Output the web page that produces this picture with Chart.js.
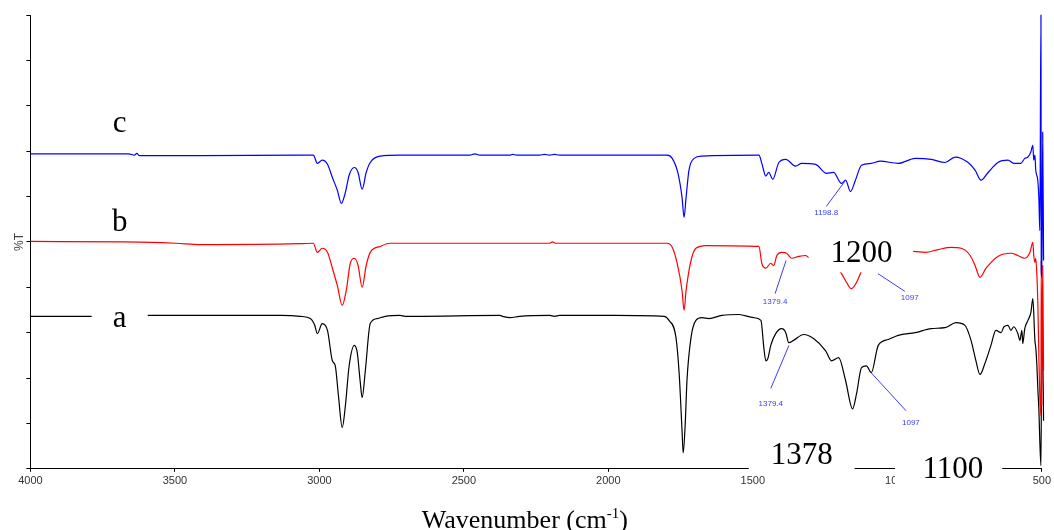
<!DOCTYPE html>
<html>
<head>
<meta charset="utf-8">
<script src="https://cdn.jsdelivr.net/npm/chart.js@4.4.1/dist/chart.umd.min.js"></script>
<style>
  body { margin: 0; background: #fff; }
  canvas { display: block; }
</style>
</head>
<body>
<canvas id="myChart" width="1054" height="530"></canvas>
<script>
// wavenumbers (cm-1) and transmittance (arbitrary %T offset) for each trace
const waveC = [4000, 3660, 3640, 3632, 3622, 3410, 3066, 3021, 3007, 2990, 2972, 2955, 2938, 2924, 2910, 2897, 2879, 2866, 2852, 2838, 2824, 2790, 2721, 2479, 2462, 2445, 2341, 2331, 2317, 2238, 2221, 2203, 2186, 2169, 1962, 1797, 1779, 1759, 1745, 1738, 1731, 1721, 1703, 1676, 1479, 1469, 1455, 1445, 1431, 1410, 1386, 1352, 1331, 1283, 1245, 1221, 1193, 1179, 1162, 1145, 1124, 1090, 1059, 997, 938, 883, 835, 800, 755, 731, 710, 686, 652, 617, 597, 573, 559, 548, 538, 531, 528, 524, 521, 514, 510, 507, 503, 502, 500, 497, 494];
const transC = [69.4, 69.4, 69.1, 69.5, 69.0, 69.0, 69.1, 69.1, 67.3, 68.0, 67.1, 64.2, 61.4, 58.5, 60.9, 64.7, 66.4, 65.3, 61.6, 65.3, 67.5, 68.9, 69.1, 69.1, 69.4, 69.1, 69.1, 69.3, 69.1, 69.1, 69.3, 69.1, 69.3, 69.1, 69.1, 69.1, 68.4, 65.1, 59.8, 55.4, 59.8, 65.8, 68.4, 68.9, 69.1, 67.3, 64.5, 65.3, 63.8, 67.5, 68.2, 66.7, 67.3, 67.1, 65.1, 65.3, 62.9, 63.6, 61.1, 63.6, 66.9, 67.3, 67.8, 67.3, 68.4, 68.2, 67.5, 68.7, 67.5, 65.8, 63.6, 65.3, 67.5, 68.0, 67.3, 67.3, 68.4, 68.7, 69.8, 71.3, 68.0, 69.1, 65.8, 63.6, 59.2, 52.5, 100, 43.7, 42.2, 74.2, 45.9];

const waveB = [4000, 3686, 3583, 3497, 3410, 3066, 3021, 3007, 2990, 2972, 2955, 2938, 2921, 2907, 2893, 2879, 2866, 2852, 2838, 2824, 2790, 2755, 2203, 2193, 2183, 1797, 1779, 1762, 1745, 1738, 1731, 1714, 1697, 1662, 1479, 1469, 1455, 1438, 1428, 1417, 1400, 1383, 1366, 1341, 1317, 1307, 1272, 1221, 1193, 1176, 1159, 1141, 1128, 1100, 1048, 997, 945, 903, 859, 814, 779, 748, 731, 714, 693, 652, 607, 583, 559, 541, 531, 528, 524, 521, 517, 514, 510, 507, 503, 502, 500, 497, 494];
const transB = [50.1, 50.0, 49.9, 49.7, 49.4, 49.6, 49.7, 47.7, 48.6, 47.7, 44.2, 40.4, 36.0, 39.3, 45.3, 46.4, 44.8, 40.0, 44.8, 47.7, 49.0, 49.7, 49.7, 50.0, 49.7, 49.7, 48.8, 45.3, 39.3, 34.9, 39.3, 45.9, 48.6, 49.2, 49.0, 45.3, 44.2, 45.3, 44.8, 47.0, 47.7, 47.5, 46.4, 46.8, 47.0, 46.6, 46.8, 45.5, 43.0, 41.1, 39.7, 41.1, 43.0, 46.4, 47.0, 47.5, 47.9, 47.7, 48.3, 48.8, 48.6, 47.0, 44.8, 42.2, 44.2, 46.8, 47.5, 47.0, 46.4, 47.7, 49.9, 47.0, 45.5, 46.4, 42.6, 37.1, 23.8, 16.1, 11.7, 45.9, 13.9, 44.8, 21.6];

const waveA = [4000, 3790, 3583, 3410, 3134, 3066, 3031, 3017, 3007, 2990, 2972, 2955, 2945, 2934, 2921, 2910, 2897, 2879, 2869, 2859, 2852, 2841, 2824, 2800, 2772, 2721, 2703, 2669, 2376, 2366, 2341, 2307, 2203, 2186, 2169, 1979, 1807, 1790, 1766, 1755, 1745, 1741, 1734, 1728, 1714, 1697, 1676, 1652, 1607, 1548, 1497, 1472, 1462, 1455, 1448, 1438, 1421, 1400, 1386, 1376, 1359, 1324, 1290, 1248, 1228, 1203, 1179, 1155, 1141, 1124, 1107, 1090, 1066, 1031, 997, 938, 883, 835, 797, 766, 745, 728, 714, 697, 676, 659, 641, 631, 617, 607, 597, 583, 576, 569, 566, 559, 548, 538, 531, 524, 521, 517, 514, 510, 507, 503, 500, 497, 494];
const transA = [33.6, 33.6, 33.8, 33.8, 33.8, 33.6, 33.1, 31.8, 29.8, 32.0, 30.5, 23.8, 22.7, 16.1, 9.1, 13.9, 22.7, 27.2, 25.6, 19.4, 15.7, 21.6, 32.0, 33.1, 33.6, 33.8, 33.6, 33.6, 33.8, 33.6, 33.3, 33.6, 33.8, 33.6, 33.8, 33.8, 33.6, 32.7, 28.9, 21.0, 8.4, 3.5, 9.9, 19.4, 28.9, 32.7, 33.3, 33.1, 33.8, 34.0, 33.3, 32.7, 26.7, 23.8, 24.3, 27.2, 29.8, 30.9, 30.0, 27.8, 28.3, 29.6, 28.7, 26.0, 23.8, 24.5, 19.4, 13.2, 16.6, 22.3, 22.7, 21.2, 27.2, 28.5, 29.4, 30.0, 30.9, 31.1, 32.2, 31.6, 28.3, 23.8, 20.8, 23.2, 27.2, 30.5, 30.0, 31.3, 31.6, 30.5, 31.3, 29.8, 28.3, 30.5, 27.6, 30.9, 32.7, 34.4, 37.5, 28.3, 26.7, 22.7, 17.9, 12.8, 6.2, 0.7, 30.5, 27.2, 10.6];

// big labels pasted on the figure, some with a white patch behind them
const bigLabels = [
    { text: 'c', wn: 3691, t: 74.2 },
    { text: 'b', wn: 3691, t: 52.5 },
    { text: 'a', wn: 3691, t: 31.3, patch: [3788, 3594, 36.9, 29.8] },
    { text: '1200', wn: 1124, t: 45.5, patch: [1307, 945, 53.0, 43.3] },
    { text: '1378', wn: 1331, t: 1.1, patch: [1514, 1148, 8.4, -0.9] },
    { text: '1100', wn: 808, t: -2.0, patch: [1008, 637, 5.1, -6.0] }
];

// small peak markers: leader line from the curve to the label
const peakNotes = [
    { text: '1198.8', from: [1181, 63.4], to: [1246, 57.8], at: [1246, 56.5] },
    { text: '1379.4', from: [1385, 45.9], to: [1423, 38.6], at: [1423, 36.9] },
    { text: '1097', from: [1067, 43.0], to: [974, 39.1], at: [957, 37.7] },
    { text: '1379.4', from: [1375, 27.2], to: [1438, 17.7], at: [1438, 14.3] },
    { text: '1097', from: [1091, 21.2], to: [970, 12.8], at: [953, 10.2] }
];

const toPoints = (w, t) => w.map((v, i) => ({ x: v, y: t[i] }));

const notesPlugin = {
    id: 'notes',
    afterDraw(chart) {
        const { ctx, scales: { x, y } } = chart;
        const px = w => x.getPixelForValue(w);
        const py = v => y.getPixelForValue(v);
        ctx.save();

        //白色遮擋區塊與大字
        bigLabels.forEach(l => {
            if (l.patch) {
                const x0 = px(l.patch[0]), x1 = px(l.patch[1]);
                const y0 = py(l.patch[2]), y1 = py(l.patch[3]);
                ctx.fillStyle = '#fff';
                ctx.fillRect(Math.min(x0, x1), Math.min(y0, y1), Math.abs(x1 - x0), Math.abs(y1 - y0));
            }
            ctx.fillStyle = '#000';
            ctx.font = '31px "Liberation Serif"';
            ctx.textAlign = 'center';
            ctx.textBaseline = 'alphabetic';
            ctx.fillText(l.text, px(l.wn), py(l.t));
        });

        //峰值標註
        ctx.strokeStyle = '#3c3cf0';
        ctx.fillStyle = '#3c3cf0';
        ctx.lineWidth = 1;
        ctx.font = '8px "Liberation Sans"';
        ctx.textBaseline = 'middle';
        peakNotes.forEach(n => {
            ctx.beginPath();
            ctx.moveTo(px(n.from[0]), py(n.from[1]));
            ctx.lineTo(px(n.to[0]), py(n.to[1]));
            ctx.stroke();
            ctx.fillText(n.text, px(n.at[0]), py(n.at[1]));
        });

        //x軸標題 (含上標)
        const main = 'Wavenumber (cm';
        const sup = '-1';
        const close = ')';
        ctx.fillStyle = '#000';
        ctx.textBaseline = 'alphabetic';
        ctx.textAlign = 'left';
        ctx.font = '26px "Liberation Serif"';
        const wMain = ctx.measureText(main).width;
        const wClose = ctx.measureText(close).width;
        ctx.font = '15px "Liberation Serif"';
        const wSup = ctx.measureText(sup).width;
        const base = chart.height - 2;
        let cx = px(2289) - (wMain + wSup + wClose) / 2;
        ctx.font = '26px "Liberation Serif"';
        ctx.fillText(main, cx, base);
        cx += wMain;
        ctx.font = '15px "Liberation Serif"';
        ctx.fillText(sup, cx, base - 10);
        cx += wSup;
        ctx.font = '26px "Liberation Serif"';
        ctx.fillText(close, cx, base);
        ctx.restore();
    }
};

Chart.defaults.font.family = '"Liberation Sans"';

const ctx = document.getElementById('myChart');
new Chart(ctx, {
    type: 'line',
    data: {
        datasets: [
            { label: 'c', data: toPoints(waveC, transC), borderColor: '#0000ff', order: 0 },
            { label: 'b', data: toPoints(waveB, transB), borderColor: '#ff0000', order: 1 },
            { label: 'a', data: toPoints(waveA, transA), borderColor: '#000000', order: 2 }
        ]
    },
    options: {
        responsive: false,
        animation: false,
        devicePixelRatio: 1,
        elements: {
            line: { borderWidth: 1.2, cubicInterpolationMode: 'monotone', fill: false },
            point: { radius: 0 }
        },
        datasets: { line: { clip: false } },
        layout: { padding: { top: 15, right: 9, bottom: 39, left: 0 } },
        plugins: {
            legend: { display: false },
            tooltip: { enabled: false }
        },
        scales: {
            x: {
                type: 'linear',
                reverse: true,
                min: 500,
                max: 4000,
                ticks: {
                    stepSize: 500,
                    padding: 3,
                    color: '#333',
                    font: { size: 11 },
                    maxRotation: 0,
                    autoSkip: false,
                    callback: v => String(v)
                },
                grid: { drawOnChartArea: false, tickLength: 3, color: '#000' },
                border: { color: '#000', width: 1 }
            },
            y: {
                min: 0,
                max: 100,
                ticks: { display: false, stepSize: 10 },
                grid: { drawOnChartArea: false, tickLength: 4, color: '#000' },
                border: { color: '#000', width: 1 },
                title: {
                    display: true,
                    text: '%T',
                    color: '#444',
                    font: { size: 12 },
                    padding: { top: 12, bottom: 0 }
                }
            }
        }
    },
    plugins: [notesPlugin]
});
</script>
</body>
</html>
